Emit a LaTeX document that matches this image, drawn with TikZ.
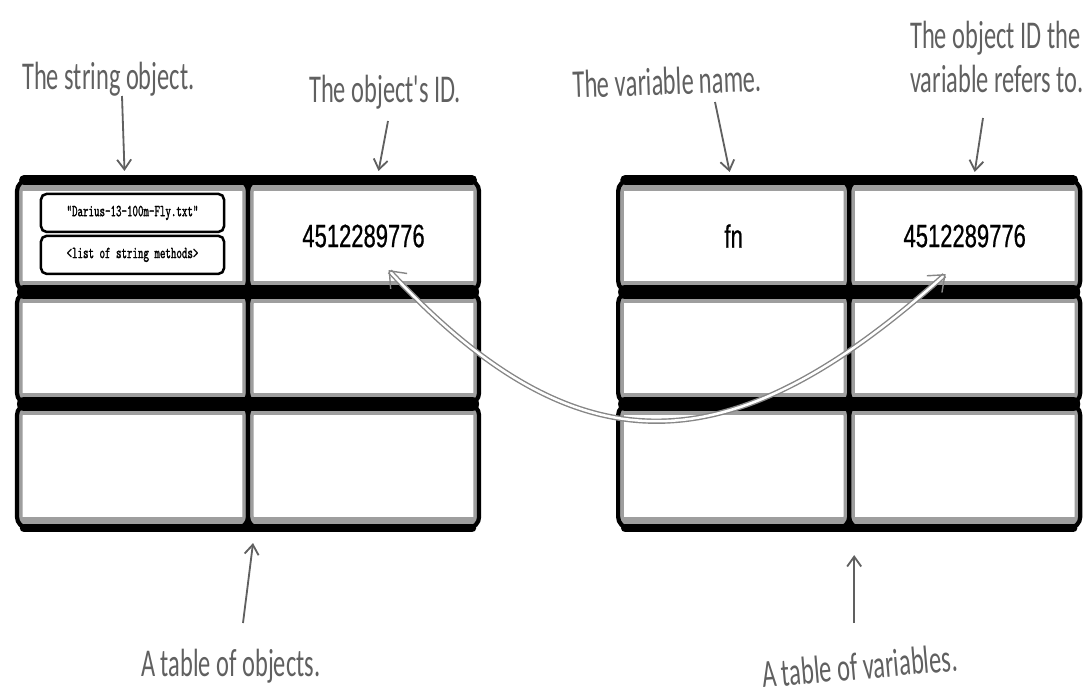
\documentclass[tikz,border=0pt]{standalone}
\usepackage{fontspec}
\setmainfont{Liberation Sans}
\newfontfamily\numfont{Liberation Sans}[FakeStretch=0.68, FakeBold=0.6]
\newfontfamily\handfont{Carlito}[FakeStretch=0.62]
\newfontfamily\codefont{lmmono10-regular}[Extension=.otf, FakeStretch=0.62, FakeBold=1.2]
\usetikzlibrary{arrows.meta, positioning, calc}

\definecolor{pencil}{RGB}{96,96,96}
\definecolor{smudge}{RGB}{158,158,158}

\tikzset{
  cell/.style={draw=black, line width=3pt, rounded corners=8pt, fill=white,
    minimum width=5.775cm, minimum height=2.8cm, inner sep=0pt, outer sep=0pt,
    path picture={
      \draw[smudge, line width=8pt, rounded corners=8pt]
        (path picture bounding box.south west) rectangle (path picture bounding box.north east);
      \draw[smudge, line width=16pt]
        (path picture bounding box.north west) -- (path picture bounding box.north east)
        (path picture bounding box.south west) -- (path picture bounding box.south east);}},
  lastcell/.style={cell, minimum height=3.1cm},
  rowline/.style={line width=#1, line cap=round, shorten <=5pt, shorten >=5pt},
  rowline/.default=6pt,
  strbox/.style={draw=black, line width=1.8pt, rounded corners=4pt, fill=white,
    minimum width=4.575cm, minimum height=0.95cm, inner sep=0pt,
    font=\codefont\fontsize{12}{12}\selectfont},
  idtext/.style={font=\numfont\fontsize{23}{23}\selectfont},
  note/.style={text=pencil, font=\handfont\fontsize{28}{31}\selectfont, inner sep=0pt, align=left},
  pointer/.style={draw=pencil, line width=1.3pt, -{Straight Barb[length=7pt, width=10pt]}},
  idlink/.style={draw=smudge!85!black, line width=1pt, double=white, double distance=1.8pt,
    {Straight Barb[length=10pt, width=16pt]}-{Straight Barb[length=10pt, width=16pt]}},
}

\begin{document}
\begin{tikzpicture}[x=0.025cm, y=-0.025cm]
\useasboundingbox (0,0) rectangle (1084,696);

% table of objects
\node[cell] (o11) at (132.5,236) {};
\node[cell, right=0pt of o11, idtext] (o12) {4512289776};
\node[cell, below=0pt of o11] (o21) {};
\node[cell, below=0pt of o12] (o22) {};
\node[lastcell, below=0pt of o21] (o31) {};
\node[lastcell, below=0pt of o22] (o32) {};

% the string object itself
\node[strbox, anchor=south] (fname) at ([yshift=2pt]o11.center) {"Darius-13-100m-Fly.txt"};
\node[strbox, below=1pt of fname] (methods) {<list of string methods>};

% table of variables
\node[cell, right=3.475cm of o12, idtext] (v11) {fn};
\node[cell, right=0pt of v11, idtext] (v12) {4512289776};
\node[cell, below=0pt of v11] (v21) {};
\node[cell, below=0pt of v12] (v22) {};
\node[lastcell, below=0pt of v21] (v31) {};
\node[lastcell, below=0pt of v22] (v32) {};

% heavy row borders
\foreach \t in {o, v} {
  \draw[rowline=7pt] (\t11.north west) -- (\t12.north east);
  \draw[rowline=10pt] (\t11.south west) -- (\t12.south east);
  \draw[rowline=10pt] (\t21.south west) -- (\t22.south east);
  \draw[rowline=6pt] (\t31.south west) -- (\t32.south east);
}

% notes
\node[note, anchor=base west] (strnote) at (22,90) {The string object.};
\node[note, anchor=base west] (idnote) at (309,103) {The object's ID.};
\node[note, anchor=base west, rotate=2] (namenote) at (573,98) {The variable name.};
\node[note, anchor=base west] (refnote) at (910,92) {The object ID the\\variable refers to.};
\node[note, anchor=base west] (objnote) at (141,676) {A table of objects.};
\node[note, anchor=base west, rotate=5] (varnote) at (763,688) {A table of variables.};

\draw[pointer] ($(strnote.base west)+(100,6)$) -- ($(o11.north)+(-8,-9)$);
\draw[pointer] ($(idnote.base west)+(79,18)$) -- ($(o12.north)+(15,-9)$);
\draw[pointer] ($(namenote.base west)+(142,4)$) -- ($(v11.north)+(-4,-8)$);
\draw[pointer] ($(refnote.base west)+(73,26)$) -- ($(v12.north)+(10,-8)$);
\draw[pointer] ($(objnote.base west)+(102,-53)$) -- ($(o32.south west)+(5,15)$);
\draw[pointer] ($(v32.south west)+(5,95)$) -- ($(v32.south west)+(5,27)$);

% fn points at the object
\draw[idlink] ($(o12.south)+(25,-22)$) .. controls +(192,207) and +(-212,190) .. ($(v12.south)+(-19,-18)$);
\end{tikzpicture}
\end{document}
